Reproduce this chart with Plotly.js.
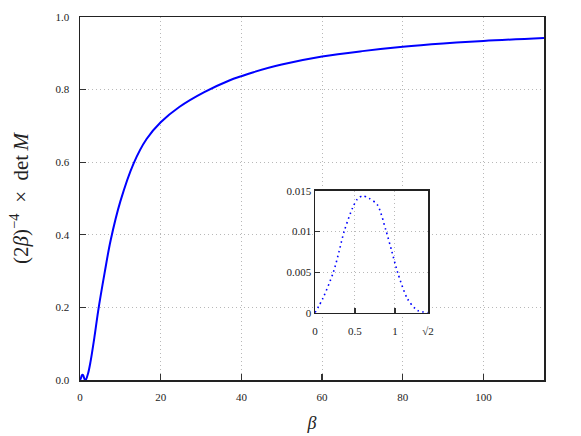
<!DOCTYPE html>
<html>
<head>
<meta charset="utf-8">
<script src="https://cdn.plot.ly/plotly-3.0.1.min.js"></script>
<style>html,body{margin:0;padding:0;background:#fff;}#chart{width:581px;height:436px;}</style>
</head>
<body>
<div id="chart"></div>
<script>
// Small-beta region (inset)
const betaSmall = [0, 0.1, 0.23, 0.3, 0.364, 0.47, 0.53, 0.595, 0.676, 0.78, 0.886, 0.96, 1.033, 1.158, 1.28, 1.4142];
const detSmall  = [0, 0.0018, 0.005, 0.0075, 0.01, 0.0129, 0.0140, 0.0144, 0.0141, 0.0133, 0.0102, 0.0076, 0.0050, 0.0017, 0.0003, 0];
// Larger-beta region
const betaLarge = [2, 2.6, 3.6, 4.5, 6.1, 7.6, 10, 13.3, 16.5, 20, 24.6, 30.8, 37, 40, 43, 50, 60, 70, 80, 90, 100, 115];
const detLarge  = [0.018, 0.05, 0.12, 0.19, 0.295, 0.385, 0.492, 0.597, 0.664, 0.71, 0.752, 0.793, 0.825, 0.837, 0.848, 0.869, 0.891, 0.906, 0.918, 0.927, 0.934, 0.942];

const mainTicks = [0, 20, 40, 60, 80, 100];
const mainYTicks = [0, 0.2, 0.4, 0.6, 0.8, 1.0];
const insetXTicks = [0, 0.5, 1, Math.SQRT2];
const insetXText = ['0', '0.5', '1', '√2'];
const insetYTicks = [0, 0.005, 0.01, 0.015];
const insetYText = ['0', '0.005', '0.01', '0.015'];

const serif = 'Liberation Serif, DejaVu Serif, serif';
const tickFont = {family: serif, size: 11, color: '#222'};

const traces = [
  {x: betaSmall.concat(betaLarge), y: detSmall.concat(detLarge), type: 'scatter', mode: 'lines',
   line: {color: '#0000ff', width: 2, shape: 'spline', smoothing: 1}, xaxis: 'x', yaxis: 'y', hoverinfo: 'skip'},
  {x: betaSmall, y: detSmall, type: 'scatter', mode: 'lines',
   line: {color: '#0000ff', width: 1.6, dash: '1.6px,3.4px', shape: 'spline', smoothing: 0.8}, xaxis: 'x2', yaxis: 'y2', hoverinfo: 'skip'}
];

const axCommon = {
  ticks: 'inside', ticklen: 6, tickwidth: 1.2, tickcolor: '#333',
  showline: true, mirror: true, linecolor: '#222', linewidth: 1.5,
  showgrid: true, gridcolor: '#b8b8b8', griddash: '1px,3px', gridwidth: 1,
  zeroline: false, tickfont: tickFont
};

const layout = {
  width: 581, height: 436,
  margin: {l: 80, r: 37, t: 17, b: 56},
  paper_bgcolor: '#fff', plot_bgcolor: '#fff',
  showlegend: false,
  xaxis: Object.assign({}, axCommon, {
    domain: [0, 1], range: [0, 115], tickmode: 'array', tickvals: mainTicks,
    ticktext: mainTicks.map(String), ticklabelstandoff: 6,
    title: {text: '<i>β</i>', font: {family: serif, size: 18, color: '#222'}, standoff: 14}
  }),
  yaxis: Object.assign({}, axCommon, {
    domain: [0, 1], range: [0, 1.0], tickmode: 'array', tickvals: mainYTicks,
    ticktext: mainYTicks.map(v => v.toFixed(1)), ticklabelstandoff: 7,
    title: {text: '(2<i>β</i>)<sup>−4</sup>\u2002×\u2002det\u2009<i>M</i>', font: {family: serif, size: 21, color: '#222'}, standoff: 21}
  }),
  xaxis2: Object.assign({}, axCommon, {
    domain: [0.5065, 0.75], anchor: 'y2', range: [0, Math.SQRT2],
    tickmode: 'array', tickvals: insetXTicks, ticktext: insetXText, ticklen: 5, ticklabelstandoff: 8
  }),
  yaxis2: Object.assign({}, axCommon, {
    domain: [0.1854, 0.5207], anchor: 'x2', range: [0, 0.015],
    tickmode: 'array', tickvals: insetYTicks, ticktext: insetYText, ticklen: 5
  }),
  shapes: [
    {type: 'rect', xref: 'x2 domain', yref: 'y2 domain', x0: -0.3, x1: 1.03, y0: -0.22, y1: 1.03,
     fillcolor: '#fff', line: {width: 0}, layer: 'below'}
  ]
};

Plotly.newPlot('chart', traces, layout, {displayModeBar: false, staticPlot: true});
</script>
</body>
</html>
